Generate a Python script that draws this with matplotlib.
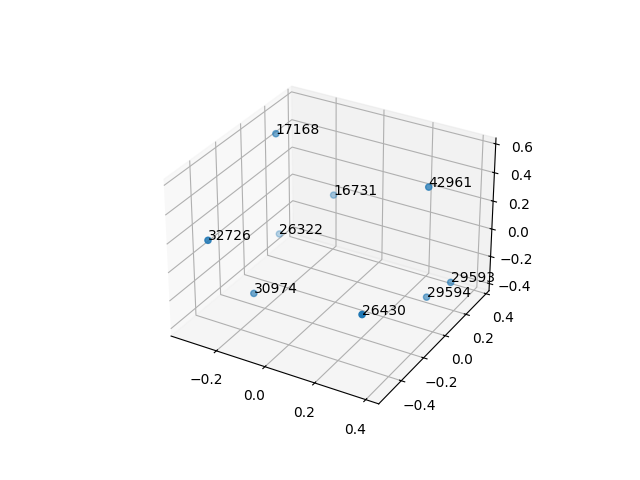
import matplotlib
matplotlib.use('Agg')
import matplotlib.pyplot as plt

labels = ['17168', '16731', '42961', '26322', '32726', '30974', '26430', '29594', '29593']
xs = [-0.283, -0.142, 0.291, -0.318, -0.288, -0.201, 0.292, 0.323, 0.390]
ys = [0.078, 0.285, 0.187, 0.163, -0.47, -0.286, -0.395, 0.118, 0.186]
zs = [0.567, 0.059, 0.387, -0.229, 0.190, -0.278, -0.079, -0.332, -0.240]

fig = plt.figure(figsize=(6.4, 4.8), dpi=100)
ax = fig.add_subplot(projection='3d')
ax.scatter(xs, ys, zs)
for i, lab in enumerate(labels):
    ax.text(xs[i], ys[i], zs[i], lab)

ax.set_xlim(-0.391, 0.45)
ax.set_ylim(-0.595, 0.43)
ax.set_zlim(-0.453, 0.64)
ax.set_xticks([-0.2, 0.0, 0.2, 0.4])
plt.savefig('out.png', dpi=100)
